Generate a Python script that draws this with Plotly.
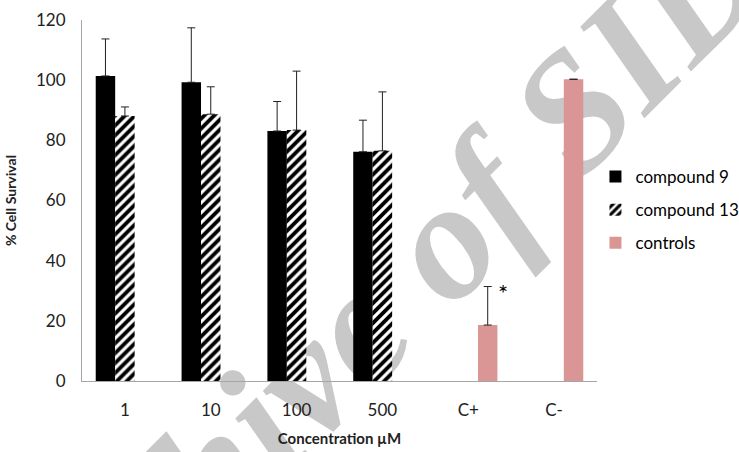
import plotly.graph_objects as go

categories = ["1", "10", "100", "500", "C+", "C-"]
compound9 = [101.4, 99.3, 83.1, 76.2, None, None]
compound9_err = [12.3, 18.1, 9.8, 10.5, 0, 0]
compound13 = [88.1, 88.7, 83.4, 76.5, None, None]
compound13_err = [3.0, 9.1, 19.6, 19.6, 0, 0]
controls = [None, None, None, None, 18.6, 100.3]
controls_err = [0, 0, 0, 0, 12.8, 0]
zeros = [0, 0, 0, 0, 0, 0]

FONT = "Lato, 'Open Sans', sans-serif"
PINK = "#D99694"

def err(vals):
    return dict(type="data", array=vals, arrayminus=zeros, symmetric=False,
                color="#222222", thickness=1, width=4)

fig = go.Figure()
fig.add_trace(go.Bar(x=categories, y=compound9, name="compound 9",
                     marker=dict(color="black", line=dict(width=0)),
                     error_y=err(compound9_err), legendgroup="a"))
fig.add_trace(go.Bar(x=categories, y=compound13, name="compound 13",
                     marker=dict(color="white", line=dict(width=0),
                                 pattern=dict(shape="/", fgcolor="black", bgcolor="white",
                                              fgopacity=1, size=7, solidity=0.55)),
                     error_y=err(compound13_err), legendgroup="b"))
fig.add_trace(go.Bar(x=categories, y=controls, name="controls",
                     marker=dict(color=PINK, line=dict(width=0)),
                     error_y=err(controls_err), legendgroup="c"))

# significance star
fig.add_annotation(x="C+", y=31.4, text="*", showarrow=False, xshift=35, yshift=-6,
                   font=dict(family=FONT, size=24, color="black"))

# watermark (behind bars)
fig.add_shape(type="rect", xref="paper", yref="paper", x0=0.49, x1=0.57, y0=0.18, y1=0.26,
              layer="below", line=dict(width=0), fillcolor="rgba(0,0,0,0)",
              label=dict(text="Archive of SID", textangle=-45, textposition="middle center",
                         font=dict(family="Liberation Serif", size=168, color="#c8c8c8",
                                   style="italic", weight="bold")))

fig.update_layout(
    width=739, height=452,
    margin=dict(l=82, r=142, t=20, b=71, autoexpand=False),
    paper_bgcolor="white", plot_bgcolor="rgba(0,0,0,0)",
    barmode="group", bargap=0.32, bargroupgap=0,
    font=dict(family=FONT, size=17, color="#222222"),
    showlegend=True,
    legend=dict(x=0.997, y=0.615, xanchor="left", yanchor="top",
                font=dict(family=FONT, size=17, color="black"),
                traceorder="grouped", tracegroupgap=8,
                bgcolor="rgba(0,0,0,0)"),
    xaxis=dict(showline=True, linecolor="#a6a6a6", linewidth=1, ticks="",
               showgrid=False, tickfont=dict(size=17), ticklabelstandoff=14,
               title=dict(text="Concentration µM", font=dict(size=15, family=FONT, weight="bold"),
                          standoff=14)),
    yaxis=dict(range=[0, 120], dtick=20, showline=True, linecolor="#a6a6a6", linewidth=1,
               ticks="", showgrid=False, zeroline=False, tickfont=dict(size=17),
               ticklabelstandoff=12,
               title=dict(text="% Cell Survival", font=dict(size=14, family=FONT, weight="bold"),
                          standoff=16)),
)

fig.write_html("out.html")
